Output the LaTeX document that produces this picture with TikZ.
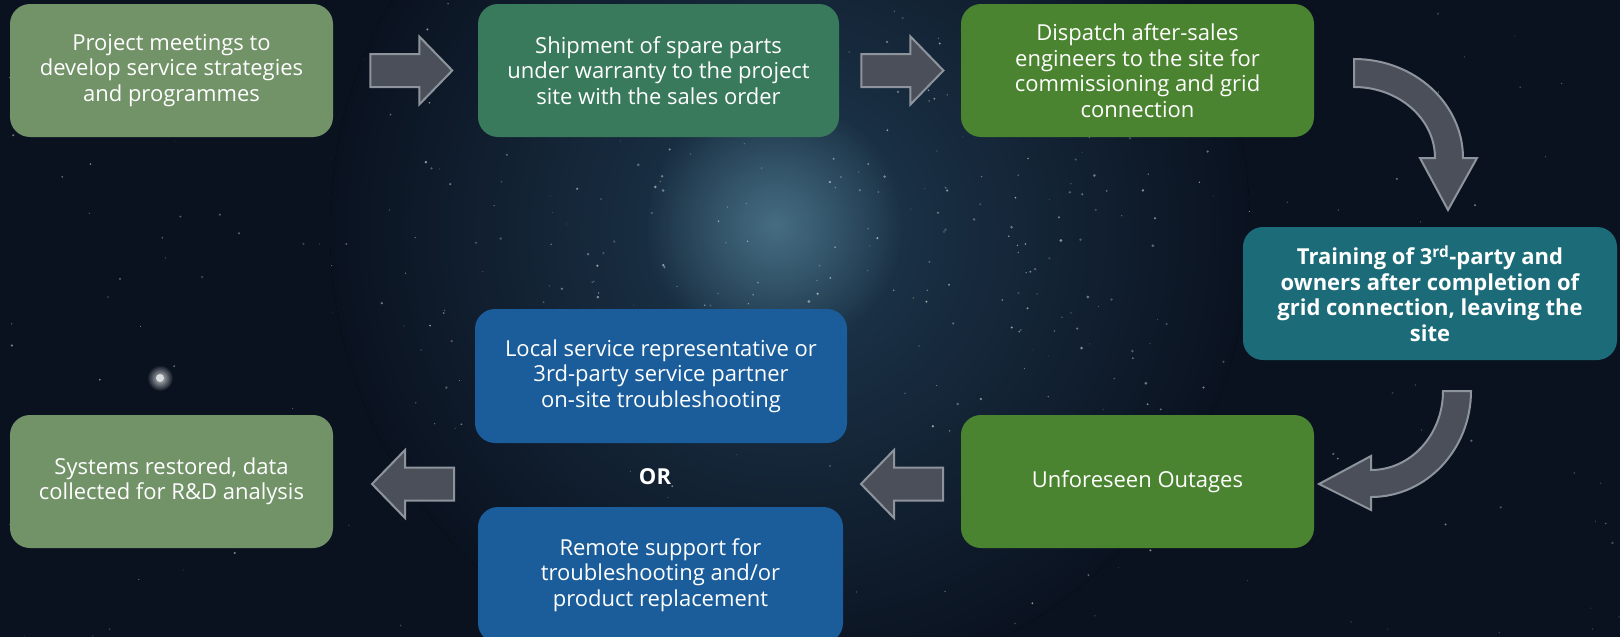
\documentclass[tikz,border=0pt]{standalone}
\usepackage{fontspec}
\setmainfont{Open Sans}
\usetikzlibrary{calc,fadings}
\definecolor{bg}{HTML}{0A1220}
\definecolor{glow}{HTML}{1F3A50}
\definecolor{core}{HTML}{4A7388}
\definecolor{cOlive}{HTML}{729268}
\definecolor{cSea}{HTML}{3A7A5C}
\definecolor{cGreen}{HTML}{4B8430}
\definecolor{cTeal}{HTML}{1B6C78}
\definecolor{cBlue}{HTML}{1A5D9A}
\definecolor{arrowfill}{HTML}{4A4F5A}
\definecolor{arrowedge}{HTML}{8E949C}
\tikzfading[name=softglow, inner color=transparent!10, outer color=transparent!100]
\tikzset{
  box/.style={rounded corners=20pt, minimum height=133pt, text=white, align=center,
    font=\fontsize{22}{25.5}\selectfont, inner sep=0pt},
  blk/.style={fill=arrowfill, draw=arrowedge, line width=2pt, line join=miter},
  rblock/.pic={\path[blk] (-41,-16.5) -- (8,-16.5) -- (8,-34) -- (41,0) -- (8,34) -- (8,16.5) -- (-41,16.5) -- cycle;},
  lblock/.pic={\path[blk] (41,-16.5) -- (-8,-16.5) -- (-8,-34) -- (-41,0) -- (-8,34) -- (-8,16.5) -- (41,16.5) -- cycle;}
}
\begin{document}
\begin{tikzpicture}[x=1pt,y=-1pt]
\useasboundingbox (0,0) rectangle (1620,637);
\fill[bg] (0,0) rectangle (1620,637);
\fill[inner color=glow, outer color=bg] (790,230) circle (460pt);
\fill[core, path fading=softglow] (775,225) circle (130pt);
\pgfmathsetseed{42}
\foreach \i in {1,...,240}{
  \pgfmathsetmacro\sx{rnd*1620}
  \pgfmathsetmacro\sy{rnd*637}
  \pgfmathsetmacro\sr{0.4+rnd*0.9}
  \pgfmathsetmacro\so{0.15+rnd*0.45}
  \fill[white, opacity=\so] (\sx,\sy) circle (\sr pt);
}
\foreach \i in {1,...,220}{
  \pgfmathsetmacro\sx{790+rand*380}
  \pgfmathsetmacro\sy{230+rand*200}
  \pgfmathsetmacro\sr{0.5+rnd*1.0}
  \pgfmathsetmacro\so{0.15+rnd*0.4}
  \fill[white, opacity=\so] (\sx,\sy) circle (\sr pt);
}
\fill[white!85!bg, path fading=softglow] (160,378) circle (13pt);
\fill[white!85!bg] (160,378) circle (4pt);

% boxes
\node[box, fill=cOlive, minimum width=323pt] (b1) at (171.5,70.5)
  {Project meetings to\\develop service strategies\\and programmes};
\node[box, fill=cSea, minimum width=361pt] (b2) at (658.5,70.5)
  {Shipment of spare parts\\under warranty to the project\\site with the sales order};
\node[box, fill=cGreen, minimum width=353pt] (b3) at (1137.5,70.5)
  {Dispatch after-sales\\engineers to the site for\\commissioning and grid\\connection};
\node[box, fill=cTeal, minimum width=374pt, font=\fontsize{22}{25.5}\selectfont\bfseries] (b4) at (1430,293.5)
  {Training of 3\textsuperscript{rd}-party and\\owners after completion of\\grid connection, leaving the\\site};
\node[box, fill=cGreen, minimum width=353pt] (b5) at (1137.5,481.5)
  {Unforeseen Outages};
\node[box, fill=cBlue, minimum width=372pt, minimum height=134pt] (b6) at (661,376)
  {Local service representative or\\3rd-party service partner\\on-site troubleshooting};
\node[font=\fontsize{22}{25.5}\selectfont\bfseries, text=white] (or) at (655,477) {OR};
\node[box, fill=cBlue, minimum width=365pt, minimum height=136pt] (b7) at (660.5,575)
  {Remote support for\\troubleshooting and/or\\product replacement};
\node[box, fill=cOlive, minimum width=323pt] (b8) at (171.5,481.5)
  {Systems restored, data\\collected for R\&D analysis};

% straight block arrows
\pic at ($(b1.east)!0.54!(b2.west)$) {rblock};
\pic at ($(b2.east)!0.52!(b3.west)$) {rblock};
\pic at (902,484) {lblock};
\pic at (413,484) {lblock};

% curved block arrows
\path[blk] (1354,59) arc[start angle=-90, end angle=0, x radius=109, y radius=99]
  -- (1477,158) -- (1448,210) -- (1420,158) -- (1435,158)
  arc[start angle=0, end angle=-90, x radius=81, y radius=71] -- cycle;
\path[blk] (1443,391) -- (1471,391)
  arc[start angle=0, end angle=90, x radius=100, y radius=106]
  -- (1371,510) -- (1319,484) -- (1371,456) -- (1371,470)
  arc[start angle=90, end angle=0, x radius=72, y radius=79] -- cycle;
\end{tikzpicture}
\end{document}
